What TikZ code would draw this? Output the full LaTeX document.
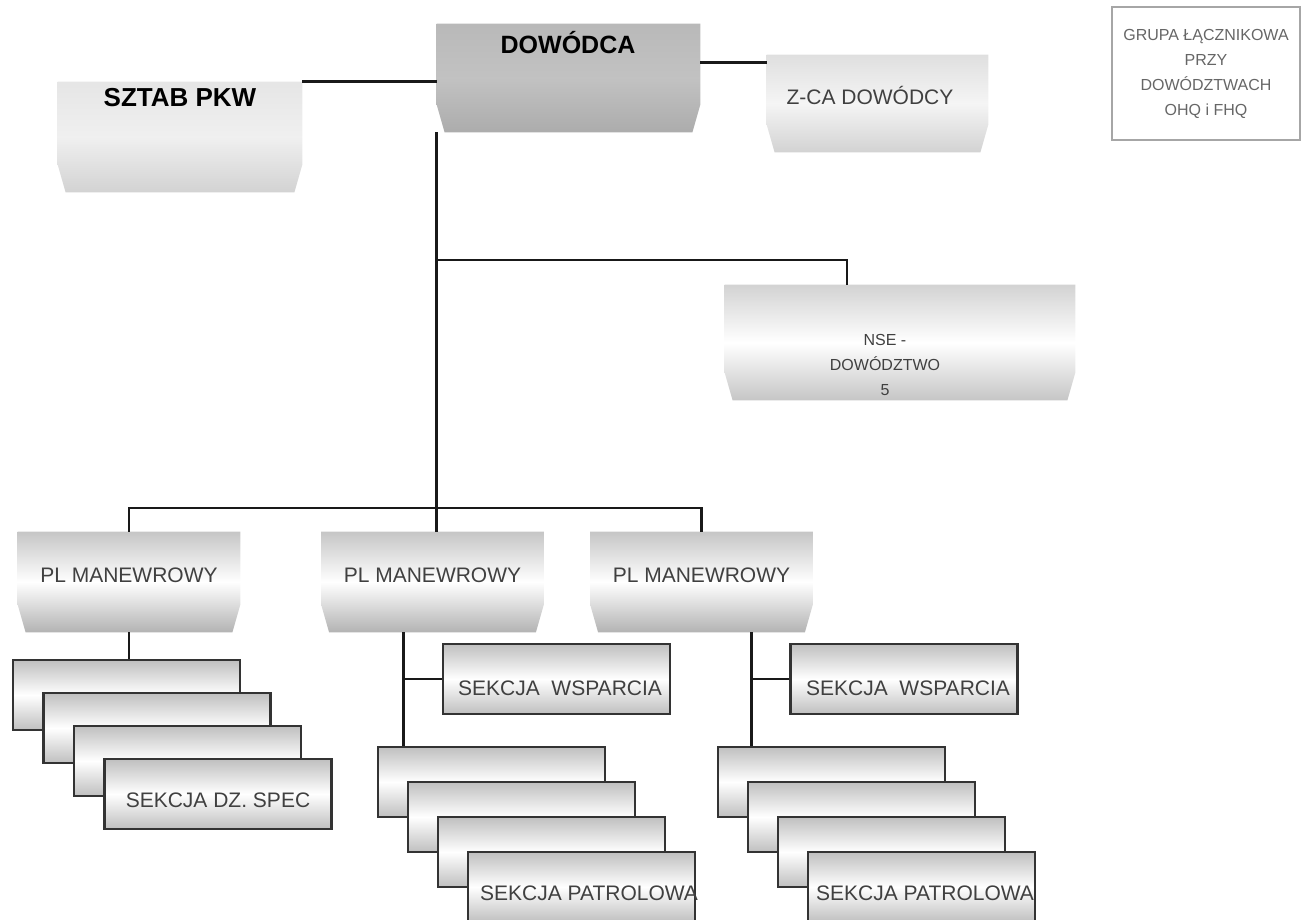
\documentclass[tikz,border=0pt]{standalone}
\usepackage{fontspec}
\setmainfont{Liberation Sans}

\newcommand{\bevelshade}[2]{%
    \shade[#2] (#1.north west) -- (#1.north east) -- ([yshift=14pt]#1.south east)
        -- ([xshift=-4pt]#1.south east) -- ([xshift=4pt]#1.south west)
        -- ([yshift=14pt]#1.south west) -- cycle;}

\tikzset{
    link/.style = {line width=1.4pt, black!90},
    holder/.style = {rectangle, inner sep=0pt},
    sekcja/.style = {rectangle, draw=black!80, line width=1.1pt, minimum width=113.5pt,
        minimum height=35pt, inner sep=0pt, top color=gray!50, bottom color=gray!50, middle color=white},
    boxtext/.style = {font=\fontsize{10.5}{12.5}\selectfont, text=black!75, inner sep=0pt},
    bigtext/.style = {font=\fontsize{13}{15}\selectfont\bfseries, text=black, inner sep=0pt},
}

\begin{document}
\begin{tikzpicture}[x=0.5pt, y=-0.5pt]
        \useasboundingbox (0,0) rectangle (1303,920);

        \node[holder, minimum width=122pt, minimum height=55pt] (sztab) at (180,137) {};
        \bevelshade{sztab}{top color=gray!20, bottom color=gray!35, middle color=gray!12}
        \node[bigtext] (sztabT) at (180,98) {SZTAB PKW};

        \node[holder, minimum width=131.5pt, minimum height=54pt] (dowodca) at (568.5,78) {};
        \bevelshade{dowodca}{top color=gray!55, bottom color=gray!65, middle color=gray!48}
        \node[bigtext, font=\fontsize{12.5}{15}\selectfont\bfseries] (dowodcaT) at (568,43) {DOWÓDCA};

        \node[holder, minimum width=110.5pt, minimum height=48.5pt] (zca) at (877.5,103.5) {};
        \bevelshade{zca}{top color=gray!25, bottom color=gray!35, middle color=gray!8}
        \node[boxtext] (zcaT) at (870,95) {Z-CA DOWÓDCY};

        \node[draw=gray!70, line width=0.6pt, minimum width=94pt, minimum height=66.5pt, align=center,
            font=\fontsize{8}{12.5}\selectfont, text=black!60] (grupa) at (1206,73.5) {GRUPA ŁĄCZNIKOWA\\PRZY\\DOWÓDZTWACH\\OHQ i FHQ};

        \node[holder, minimum width=175pt, minimum height=57.5pt] (nse) at (900,342.5) {};
        \bevelshade{nse}{top color=gray!35, bottom color=gray!45, middle color=white}
        \node[boxtext, align=center, font=\fontsize{8}{12.5}\selectfont] (nseT) at (885,365) {NSE -\\DOWÓDZTWO\\5};

        \foreach \x/\n in {129/1, 432.5/2, 701.5/3} {
            \node[holder, minimum width=111pt, minimum height=50pt] (pl\n) at (\x,582) {};
            \bevelshade{pl\n}{top color=gray!45, bottom color=gray!60, middle color=white}
            \node[boxtext] (plT\n) at (\x,575) {PL MANEWROWY};
        }

        \coordinate (nsejoin) at (438,260);
        \coordinate (bus) at (438,508);
        \draw[link] (sztab.north east) -- (sztab.north east -| dowodca.west);
        \draw[link] ([yshift=-4pt]zca.north west) -- ([yshift=-4pt]zca.north west -| dowodca.east);
        \draw[link] (dowodca.west |- dowodca.south) -- (dowodca.west |- pl2.north);
        \draw[link] (nsejoin) -| ([xshift=-26.5pt]nse.north);
        \draw[link] (pl1.north) |- (bus) -| (pl3.north);

        \foreach \i in {0,...,3}
            \node[sekcja] (dz\i) at (126.5+30.5*\i, 695+33*\i) {};
        \node[boxtext] (dzT) at ([yshift=-3pt]dz3.center) {SEKCJA DZ. SPEC};
        \draw[link] (pl1.south) -- (pl1.south |- dz0.north);

        \node[sekcja] (wsp1) at (556.5,679) {};
        \node[boxtext] (wspT1) at (560,688) {SEKCJA \ WSPARCIA};
        \foreach \i in {0,...,3}
            \node[sekcja] (pa\i) at (491.5+30*\i, 782+35*\i) {};
        \node[boxtext] (paT) at (589,893) {SEKCJA PATROLOWA};
        \path ([xshift=-14.5pt]pl2.south) coordinate (pl2drop);
        \draw[link] (pl2drop) -- (pl2drop |- pa0.north);
        \draw[link] (wsp1.west) -- (wsp1.west -| pl2drop);

        \node[sekcja] (wsp2) at (904,679) {};
        \node[boxtext] (wspT2) at (908,688) {SEKCJA \ WSPARCIA};
        \foreach \i in {0,...,3}
            \node[sekcja] (pb\i) at (831.5+30*\i, 782+35*\i) {};
        \node[boxtext] (pbT) at (925,893) {SEKCJA PATROLOWA};
        \path ([xshift=25pt]pl3.south) coordinate (pl3drop);
        \draw[link] (pl3drop) -- (pl3drop |- pb0.north);
        \draw[link] (wsp2.west) -- (wsp2.west -| pl3drop);
    \end{tikzpicture}
\end{document}
